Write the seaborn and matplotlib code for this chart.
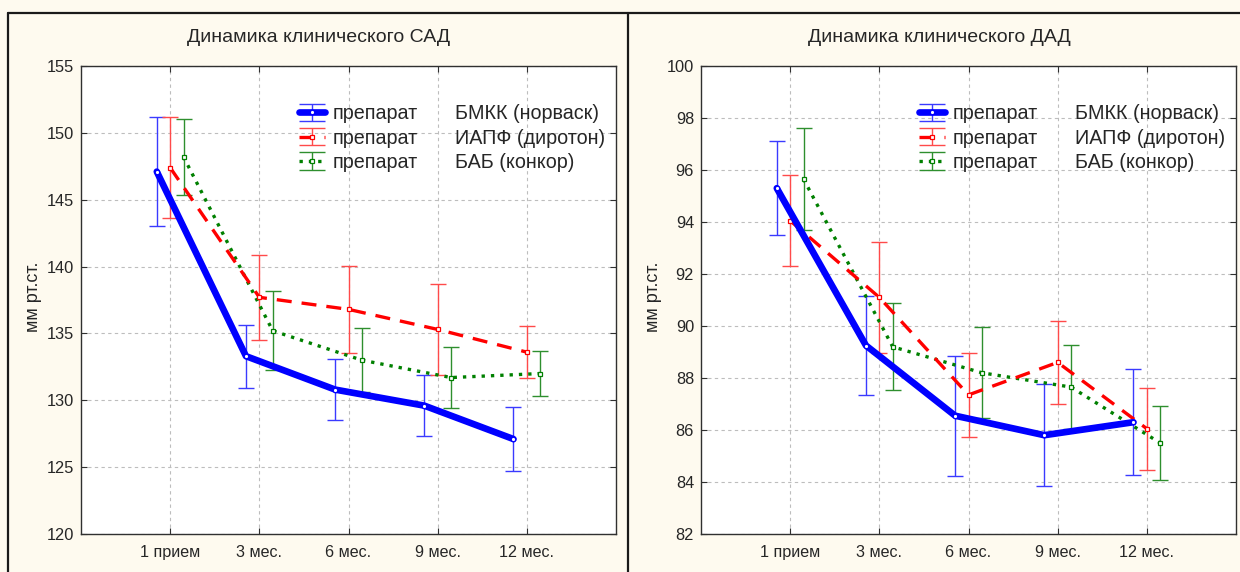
import numpy as np
import pandas as pd
import matplotlib
matplotlib.use("Agg")
import matplotlib.pyplot as plt
from matplotlib.lines import Line2D
from matplotlib.container import ErrorbarContainer
from matplotlib.legend_handler import HandlerErrorbar
import seaborn as sns

# ---- data -------------------------------------------------------------
visits = ["1 прием", "3 мес.", "6 мес.", "9 мес.", "12 мес."]
drug_names = ["БМКК (норваск)", "ИАПФ (диротон)", "БАБ (конкор)"]

# systolic pressure (САД): means and half-widths of the error bars
sad_bmkk = [147.1, 133.3, 130.8, 129.6, 127.1]
sad_bmkk_err = [4.1, 2.35, 2.3, 2.3, 2.4]
sad_iapf = [147.4, 137.7, 136.8, 135.3, 133.6]
sad_iapf_err = [3.8, 3.2, 3.25, 3.4, 1.95]
sad_bab = [148.2, 135.2, 133.0, 131.7, 132.0]
sad_bab_err = [2.85, 2.95, 2.4, 2.25, 1.7]

# diastolic pressure (ДАД)
dad_bmkk = [95.3, 89.25, 86.55, 85.8, 86.3]
dad_bmkk_err = [1.8, 1.9, 2.3, 1.97, 2.04]
dad_iapf = [94.05, 91.1, 87.35, 88.6, 86.05]
dad_iapf_err = [1.76, 2.14, 1.6, 1.6, 1.58]
dad_bab = [95.65, 89.2, 88.2, 87.65, 85.5]
dad_bab_err = [1.97, 1.68, 1.75, 1.62, 1.41]

sad_yticks = [120, 125, 130, 135, 140, 145, 150, 155]
dad_yticks = [82, 84, 86, 88, 90, 92, 94, 96, 98, 100]

# ---- styling ----------------------------------------------------------
sns.set_style("white")
plt.rcParams["font.family"] = ["Liberation Sans", "DejaVu Sans"]

BG = "#FEFAEF"
line_colors = ["#0000FF", "#FF0000", "#008000"]
bar_colors = ["#3A3AFF", "#FF4A4A", "#2E8F2E"]
offsets = [-0.15, 0.0, 0.15]
line_widths = [4.8, 2.4, 2.4]
dash_styles = [(None, None), (4.5, 3.0), (1.0, 1.8)]
marker_shapes = ["o", "s", "s"]
LEG_FS = 14.2

W, H = 1240, 572
fig = plt.figure(figsize=(W / 100, H / 100), dpi=100, facecolor=BG)


def fx(px):
    return px / W


def fy(py):
    return 1 - py / H


class WideCapHandler(HandlerErrorbar):
    """Error-bar legend key whose caps span the whole key width."""

    def create_artists(self, legend, orig_handle, xdescent, ydescent,
                       width, height, fontsize, trans):
        arts = super().create_artists(legend, orig_handle, xdescent, ydescent,
                                      width, height, fontsize, trans)
        for a in arts:
            if isinstance(a, Line2D) and a.get_marker() == "_":
                a.set_markersize(width)
        return arts


def draw_panel(ax, means, errs, yticks, ylim):
    ax.set_facecolor("white")
    pos = np.arange(1, len(visits) + 1)
    handles = []
    for i, (m, e) in enumerate(zip(means, errs)):
        df = pd.DataFrame({"x": pos + offsets[i], "y": m})
        sns.lineplot(data=df, x="x", y="y", ax=ax, color=line_colors[i],
                     lw=line_widths[i], marker=marker_shapes[i], markersize=3.2,
                     markerfacecolor="white", markeredgecolor=line_colors[i],
                     markeredgewidth=0.9, zorder=3 + (2 - i) * 0.1, legend=False)
        ln = ax.lines[-1]
        if dash_styles[i][0] is not None:
            ln.set_dashes(dash_styles[i])
            ln.set_dash_capstyle("butt")
        eb = ax.errorbar(df["x"], df["y"], yerr=e, fmt="none", ecolor=bar_colors[i],
                         elinewidth=1.0, capsize=6, capthick=1.0, zorder=2)
        handles.append(ErrorbarContainer((ln, eb.lines[1], eb.lines[2]),
                                         has_xerr=False, has_yerr=True))

    ax.set_xlim(0, 6)
    ax.set_xticks(pos)
    ax.set_xticklabels(visits)
    ax.set_ylim(*ylim)
    ax.set_yticks(yticks)
    ax.set_xlabel("")
    ax.set_ylabel("")
    ax.grid(True, color="#BDBDBD", linestyle=(0, (3, 3)), linewidth=0.8)
    ax.set_axisbelow(True)
    for s in ax.spines.values():
        s.set_color("#303030")
        s.set_linewidth(1.0)
    ax.tick_params(axis="both", which="both", direction="in", length=4,
                   width=0.8, color="#303030",
                   top=True, right=True, left=True, bottom=True)
    ax.tick_params(axis="y", labelsize=11.8, pad=5)
    ax.tick_params(axis="x", labelsize=11.6, pad=8)

    leg1 = ax.legend(handles, ["препарат"] * 3, loc="upper left",
                     bbox_to_anchor=(0.408, 0.918), frameon=False, fontsize=LEG_FS,
                     handlelength=1.3, handletextpad=0.4, labelspacing=0.26,
                     borderpad=0, borderaxespad=0,
                     handler_map={ErrorbarContainer: WideCapHandler(yerr_size=0.45)})
    ax.add_artist(leg1)
    blank = [Line2D([], [], lw=0) for _ in drug_names]
    ax.legend(blank, drug_names, loc="upper left", bbox_to_anchor=(0.699, 0.918),
              frameon=False, fontsize=LEG_FS, handlelength=0, handletextpad=0,
              labelspacing=0.26, borderpad=0, borderaxespad=0)


ax1 = fig.add_axes([fx(81), fy(534), fx(535), (534 - 66) / H])
ax2 = fig.add_axes([fx(701), fy(534), fx(535), (534 - 66) / H])

draw_panel(ax1, [sad_bmkk, sad_iapf, sad_bab],
           [sad_bmkk_err, sad_iapf_err, sad_bab_err], sad_yticks, (120, 155))
draw_panel(ax2, [dad_bmkk, dad_iapf, dad_bab],
           [dad_bmkk_err, dad_iapf_err, dad_bab_err], dad_yticks, (82, 100))

# titles and axis captions
fig.text(fx(319), fy(37), "Динамика клинического САД", ha="center", va="center", fontsize=14)
fig.text(fx(939), fy(37), "Динамика клинического ДАД", ha="center", va="center", fontsize=14)
fig.text(fx(34), fy(297), "мм рт.ст.", rotation=90, ha="center", va="center", fontsize=13)
fig.text(fx(653), fy(297), "мм рт.ст.", rotation=90, ha="center", va="center", fontsize=13)

# panel frame lines
frame_kw = dict(color="#1A1A1A", lw=1.6, transform=fig.transFigure)
fig.add_artist(Line2D([fx(8), 1], [fy(13), fy(13)], **frame_kw))
fig.add_artist(Line2D([fx(8), fx(8)], [0, fy(13)], **frame_kw))
fig.add_artist(Line2D([fx(628), fx(628)], [0, fy(13)], **frame_kw))

fig.savefig("out.png", dpi=100, facecolor=BG)
